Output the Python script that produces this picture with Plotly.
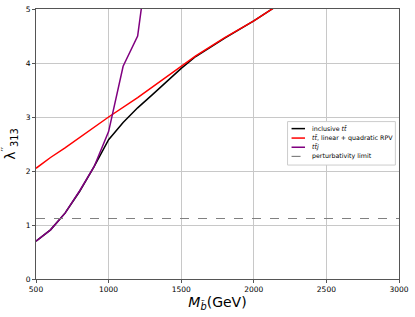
import plotly.graph_objects as go

# Data
mass_incl = [500, 600, 700, 800, 900, 1000, 1100, 1200, 1300, 1400, 1500, 1600, 1800, 2000, 2200]
lam_incl = [0.70, 0.91, 1.22, 1.62, 2.08, 2.58, 2.90, 3.17, 3.41, 3.65, 3.90, 4.12, 4.46, 4.78, 5.13]

mass_lq = [500, 600, 700, 800, 900, 1000, 1200, 1400, 1500, 1600, 1800, 2000, 2200]
lam_lq = [2.05, 2.25, 2.43, 2.62, 2.81, 3.00, 3.36, 3.75, 3.94, 4.13, 4.47, 4.78, 5.13]

mass_ttj = [500, 600, 700, 800, 900, 1000, 1100, 1200, 1300]
lam_ttj = [0.70, 0.91, 1.22, 1.63, 2.08, 2.73, 3.94, 4.50, 6.50]

pert_limit = 1.12
x_range = [500, 3000]
y_range = [0, 5]
x_ticks = [500, 1000, 1500, 2000, 2500, 3000]
y_ticks = [0, 1, 2, 3, 4, 5]

series_names = ["inclusive <i>tt̄</i>", "<i>tt̄</i>, linear + quadratic RPV",
                "<i>tt̄j</i>", "perturbativity limit"]
series_colors = ["black", "red", "purple", "grey"]
series_dash = ["solid", "solid", "solid", "dash"]

fig = go.Figure()
xs = [mass_incl, mass_lq, mass_ttj, x_range]
ys = [lam_incl, lam_lq, lam_ttj, [pert_limit, pert_limit]]
for x, y, n, c, d in zip(xs, ys, series_names, series_colors, series_dash):
    fig.add_trace(go.Scatter(x=x, y=y, mode="lines", name=n, showlegend=False,
                             line=dict(color=c, width=1.5 if d == "solid" else 1.2, dash=d)))

# Matplotlib-style compact legend drawn with shapes/annotations (paper coords)
box = dict(x0=0.693, x1=0.990, y0=0.422, y1=0.583)
fig.add_shape(type="rect", xref="paper", yref="paper", **box,
              line=dict(color="#cccccc", width=1), fillcolor="white", layer="above")
entry_y = [0.557, 0.522, 0.488, 0.454]
for yy, n, c, d in zip(entry_y, series_names, series_colors, series_dash):
    fig.add_shape(type="line", xref="paper", yref="paper", x0=0.704, x1=0.741, y0=yy, y1=yy,
                  line=dict(color=c, width=1.5 if d == "solid" else 1.2, dash="dash" if d == "dash" else "solid"),
                  layer="above")
    fig.add_annotation(xref="paper", yref="paper", x=0.755, y=yy, text=n, showarrow=False,
                       xanchor="left", yanchor="middle",
                       font=dict(family="DejaVu Sans", size=6.3, color="black"))

axis_common = dict(showgrid=True, gridcolor="#c8c8c8", gridwidth=1,
                   showline=True, linecolor="#555", linewidth=1, mirror=True,
                   ticks="outside", ticklen=3, tickcolor="#555",
                   tickfont=dict(family="DejaVu Sans", size=7.5, color="black"),
                   zeroline=False, automargin=False)

fig.update_layout(
    width=415, height=317,
    margin=dict(l=36, r=16, t=9, b=38),
    paper_bgcolor="white", plot_bgcolor="white",
    xaxis=dict(range=x_range, tickvals=x_ticks,
               title=dict(text="<i>M</i><sub><i>b̃</i></sub>(GeV)", standoff=3,
                          font=dict(family="DejaVu Sans", size=14, color="black")),
               **axis_common),
    yaxis=dict(range=y_range, tickvals=y_ticks,
               title=dict(text="λ<sup>′′</sup><sub>313</sub>", standoff=6,
                          font=dict(family="DejaVu Sans", size=14, color="black")),
               **axis_common),
    showlegend=False,
)

fig.write_html("out.html", config={"displayModeBar": False},
               post_script="document.body.style.margin='0';")
